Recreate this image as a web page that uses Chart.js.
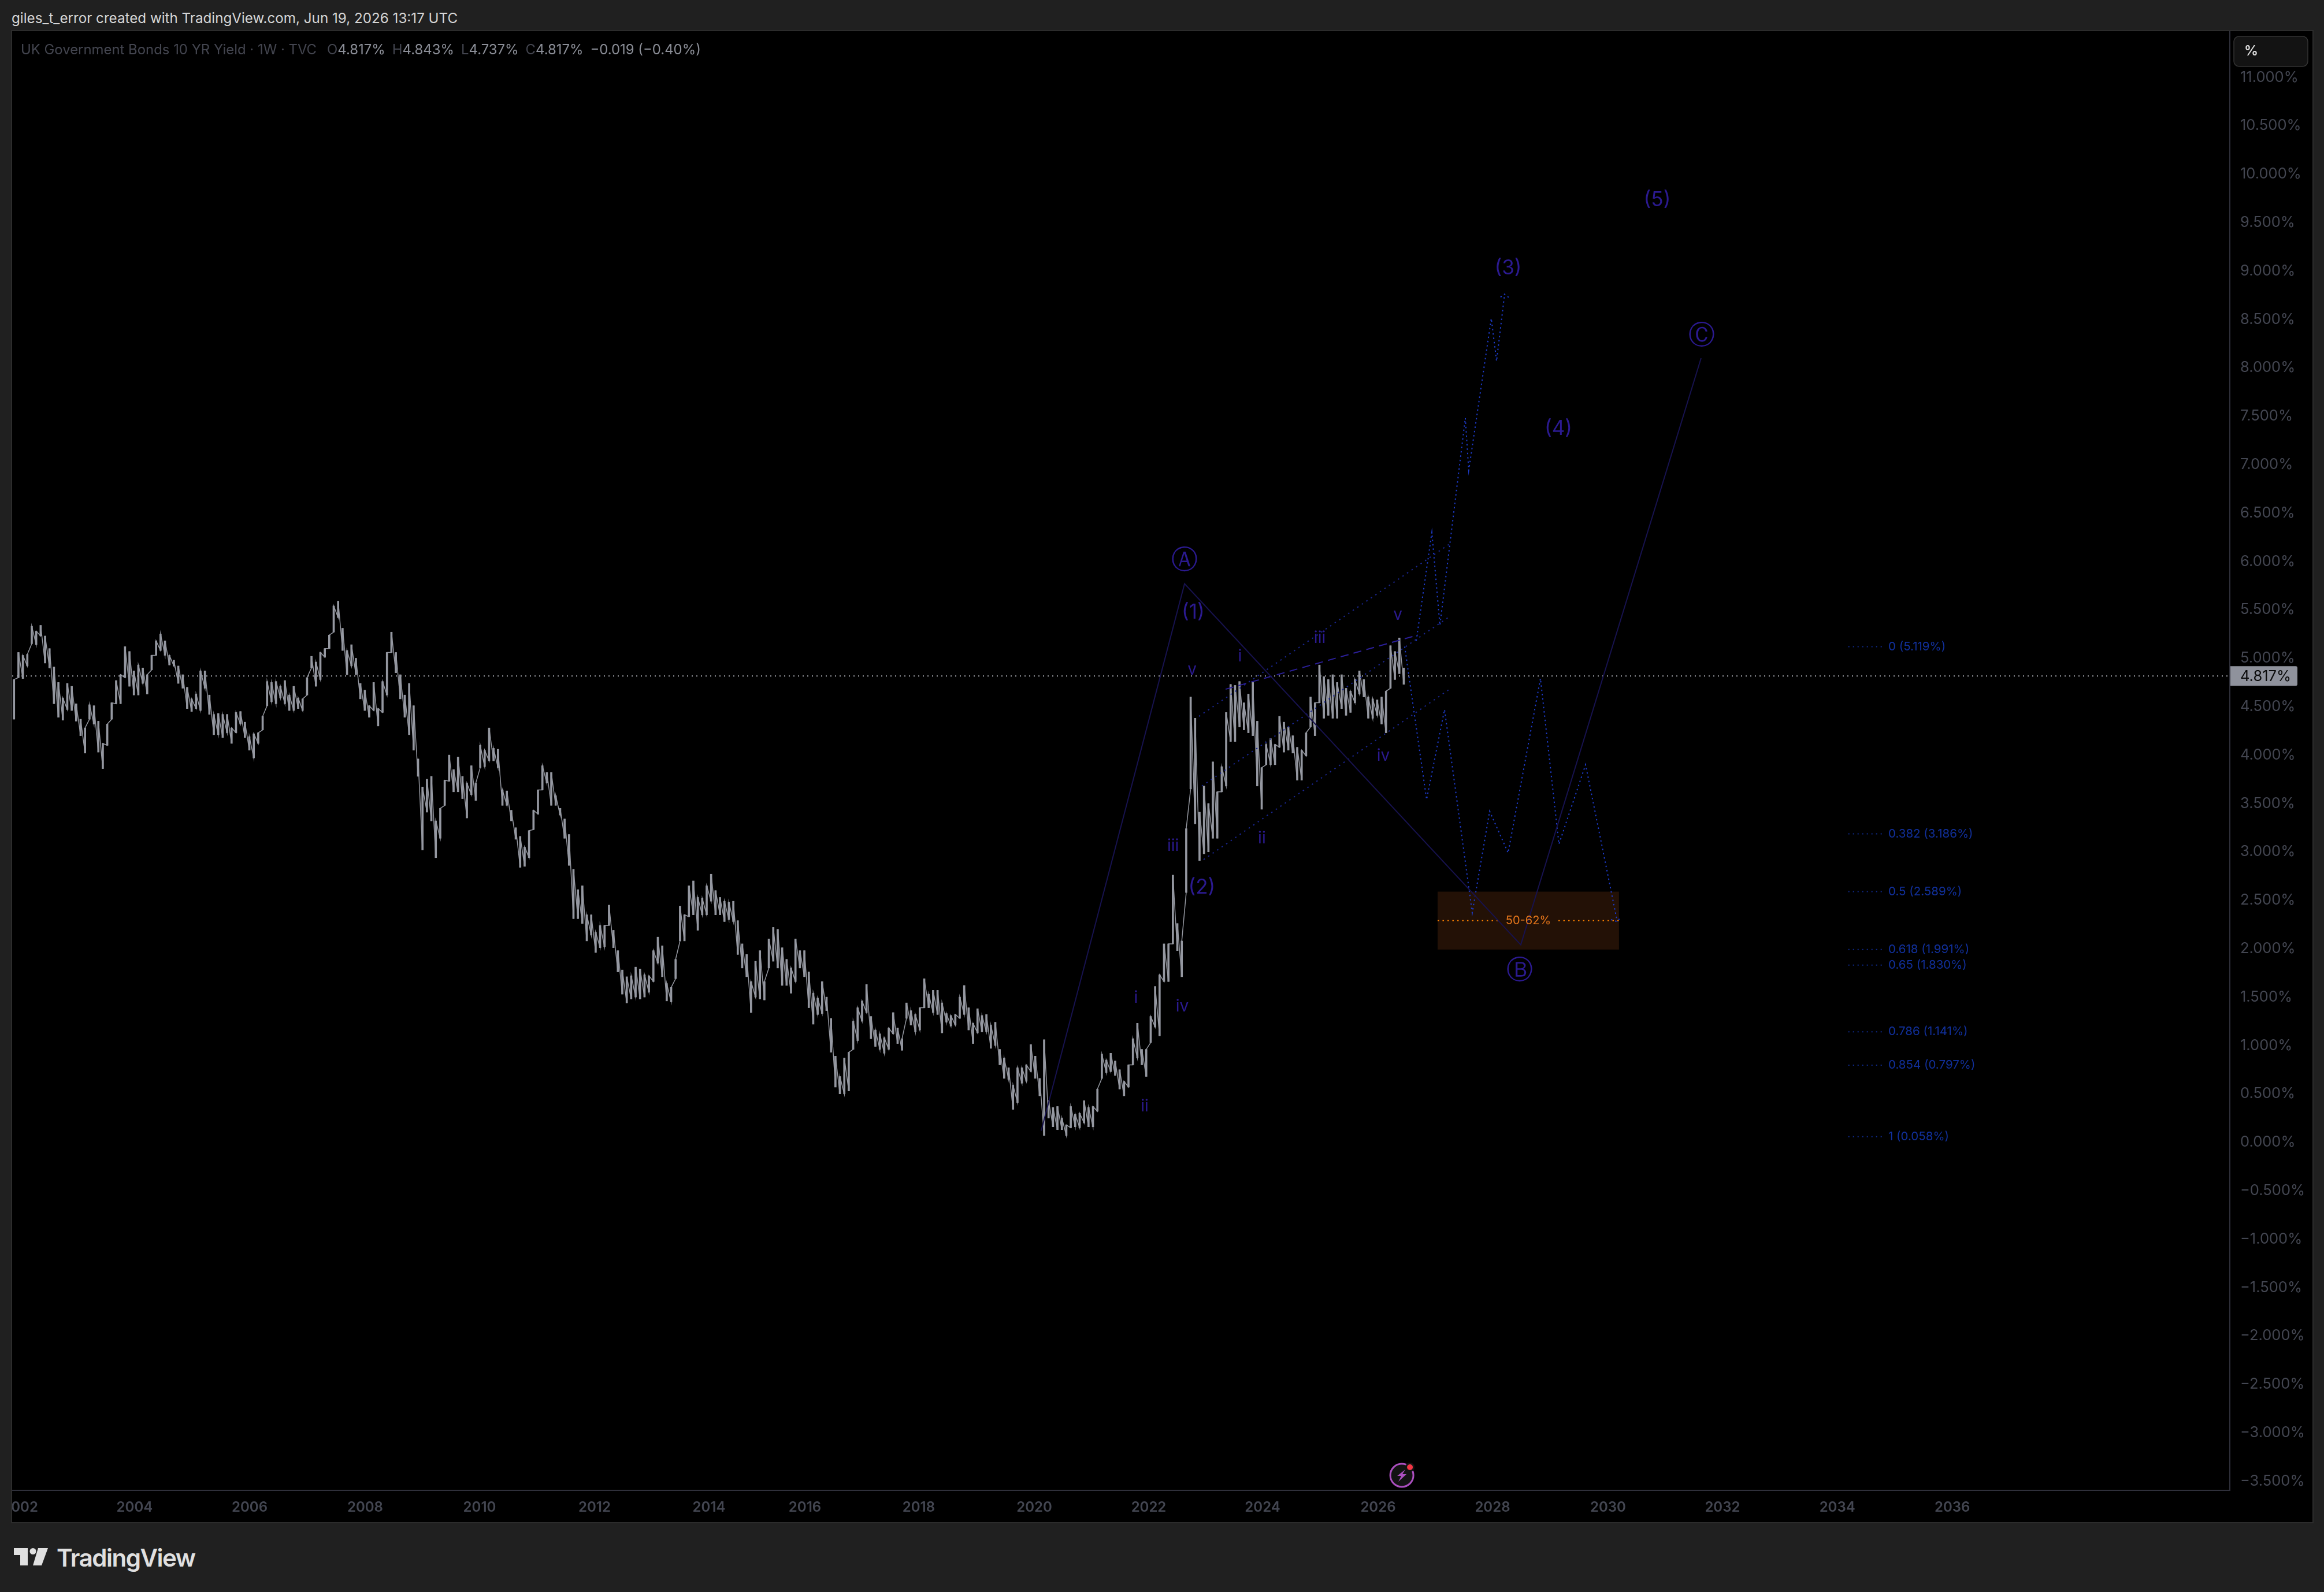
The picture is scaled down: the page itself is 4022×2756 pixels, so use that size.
<!DOCTYPE html>
<html>
<head>
<meta charset="utf-8">
<title>UK Government Bonds 10 YR Yield</title>
<script src="https://cdn.jsdelivr.net/npm/chart.js@4/dist/chart.umd.min.js"></script>
<style>
  html, body { margin: 0; background: #202020; width: 4022px; height: 2756px; overflow: hidden; font-family: Inter, sans-serif; }
  #frame { position: absolute; left: 19px; top: 52px; width: 3981px; height: 2581px; border: 2px solid #2c2c2c; background: #000; }
  canvas { position: absolute; left: 0; top: 0; }
  .title { position: absolute; left: 20px; top: 17px; font-size: 24.2px; color: #d6d6d6; white-space: nowrap; }
  .legend { position: absolute; left: 36px; top: 71px; font-size: 23.9px; color: #43454f; white-space: nowrap; }
  .legend b { font-weight: 400; color: #8b8e97; margin-right: 12px; }
  .legend .src { margin-right: 18px; }
  .logoText { position: absolute; left: 98px; top: 2671px; font-size: 42px; font-weight: 600; letter-spacing: -1.5px; color: #e0e0e0; }
  .logo { position: absolute; left: 24px; top: 2680px; }
</style>
</head>
<body>
<div class="title">giles_t_error created with TradingView.com, Jun 19, 2026 13:17 UTC</div>
<div id="frame"><canvas id="chart" width="3981" height="2581"></canvas></div>
<div class="legend"><span class="src">UK Government Bonds 10 YR Yield · 1W · TVC</span>O<b>4.817%</b>H<b>4.843%</b>L<b>4.737%</b>C<b>4.817%</b><b>−0.019 (−0.40%)</b></div>
<svg class="logo" width="60" height="30" viewBox="0 0 60 30"><path fill="#e0e0e0" d="M0 0H24V30H11V12H0Z"/><circle fill="#e0e0e0" cx="33" cy="5.5" r="5.5"/><path fill="#e0e0e0" d="M42 0H59L48 30H33Z"/></svg>
<div class="logoText">TradingView</div>

<script>
// Highs and lows of the yield, one pair every four weeks or so
const highs = [
  4.78,5.06,5.03,5.04,5.33,5.28,5.34,5.23,5.10,4.91,4.75,4.59,4.74,4.71,4.53,4.37,4.28,4.52,4.51,4.35,
  4.12,4.32,4.54,4.77,4.83,5.12,5.07,4.87,4.93,4.90,4.83,5.03,5.18,5.25,5.18,5.03,4.98,4.92,4.83,4.70,
  4.58,4.63,4.87,4.87,4.62,4.42,4.43,4.42,4.42,4.28,4.44,4.45,4.34,4.19,4.22,4.23,4.40,4.76,4.75,4.76,
  4.71,4.77,4.62,4.71,4.59,4.58,4.80,5.02,4.96,5.06,5.10,5.24,5.54,5.59,5.31,5.08,5.14,5.00,4.74,4.67,
  4.51,4.75,4.48,4.76,5.06,5.27,5.06,4.83,4.62,4.74,4.51,3.96,3.67,3.75,3.78,3.32,3.45,3.74,4.00,3.85,
  3.98,3.78,3.71,3.89,3.71,4.10,4.05,4.28,4.07,4.06,3.64,3.63,3.43,3.25,3.16,3.05,3.22,3.43,3.64,3.89,
  3.82,3.82,3.58,3.45,3.34,3.18,2.82,2.61,
  2.65,2.35,2.35,2.17,2.24,2.24,2.45,2.19,1.98,1.78,1.71,1.72,1.81,1.79,1.73,1.72,1.98,2.12,2.03,1.64,
  1.60,1.89,2.44,2.35,2.65,2.70,2.53,2.52,2.65,2.77,2.60,2.53,2.49,2.48,2.49,2.29,2.05,1.94,1.66,1.87,
  1.98,1.66,2.10,2.22,2.20,2.01,1.89,1.80,2.10,1.98,1.98,1.76,1.54,1.49,1.66,1.50,1.28,0.89,0.68,0.87,
  0.93,1.25,1.39,1.46,1.63,1.30,1.16,1.12,1.08,1.18,1.34,1.18,1.07,1.44,1.36,1.32,1.39,1.69,1.53,1.57,
  1.57,1.44,1.33,1.31,1.32,1.50,1.62,1.39,1.23,1.38,1.31,1.32,1.21,1.24,0.96,0.87,0.77,0.59,0.77,0.77,
  0.80,1.01,0.89,0.66,1.06,0.43,0.36,0.37,0.25,0.18,0.37,0.29,0.30,0.43,0.36,0.37,0.55,0.91,0.85,0.92,
  0.84,0.75,0.63,0.80,1.07,1.23,0.96,0.96,1.30,1.61,1.73,2.05,2.05,2.76,2.26,2.08,3.24,
  4.60,4.38,3.41,3.68,3.50,3.93,3.62,3.88,4.44,4.73,4.72,4.76,4.54,4.63,4.75,4.35,3.87,4.11,4.17,4.11,
  4.40,4.34,4.29,4.20,4.08,4.05,4.23,4.60,4.54,4.93,4.81,4.78,4.83,4.75,4.83,4.69,4.66,4.78,4.87,4.78,
  4.60,4.58,4.57,4.60,4.66,5.13,5.07,5.21,4.90
];
const lows = [
  4.37,4.80,4.79,4.92,5.15,5.14,5.23,4.95,4.90,4.53,4.39,4.36,4.47,4.46,4.35,4.20,4.02,4.37,4.32,4.03,
  3.86,4.10,4.37,4.53,4.53,4.80,4.71,4.62,4.62,4.74,4.63,4.88,5.03,5.08,5.03,4.93,4.92,4.74,4.69,4.48,
  4.45,4.48,4.46,4.69,4.42,4.21,4.21,4.18,4.23,4.12,4.23,4.32,4.18,4.05,3.97,4.12,4.26,4.51,4.55,4.53,
  4.59,4.53,4.46,4.46,4.48,4.46,4.62,4.90,4.71,4.78,5.01,5.10,5.27,5.42,5.08,4.83,4.92,4.83,4.58,4.46,
  4.39,4.46,4.30,4.44,4.62,5.06,4.85,4.58,4.39,4.21,4.05,3.78,3.02,3.41,3.32,2.94,3.14,3.48,3.73,3.62,
  3.62,3.55,3.35,3.59,3.53,3.87,3.88,3.94,3.94,3.87,3.48,3.48,3.32,3.13,2.84,2.85,2.94,3.23,3.39,3.64,
  3.71,3.48,3.48,3.38,3.14,2.86,2.31,2.31,
  2.26,2.08,2.14,1.96,2.01,2.02,2.24,2.01,1.76,1.53,1.44,1.48,1.50,1.48,1.50,1.55,1.66,1.85,1.71,1.46,
  1.45,1.69,2.08,2.08,2.33,2.35,2.19,2.35,2.35,2.49,2.35,2.35,2.28,2.30,2.28,1.94,1.80,1.71,1.34,1.50,
  1.48,1.47,1.80,1.87,1.80,1.62,1.62,1.54,1.66,1.80,1.71,1.39,1.22,1.32,1.33,1.36,0.93,0.57,0.50,0.50,
  0.53,0.96,1.05,1.25,1.34,1.07,0.99,0.96,0.92,0.96,1.12,1.02,0.95,1.28,1.21,1.14,1.16,1.39,1.39,1.34,
  1.32,1.13,1.24,1.20,1.21,1.28,1.32,1.16,1.02,1.13,1.14,1.14,0.97,1.00,0.80,0.66,0.65,0.34,0.41,0.61,
  0.63,0.73,0.66,0.48,0.07,0.25,0.16,0.13,0.13,0.07,0.15,0.16,0.15,0.20,0.16,0.16,0.32,0.66,0.72,0.73,
  0.69,0.55,0.48,0.57,0.80,0.87,0.80,0.68,1.03,1.19,1.10,1.66,1.66,2.05,1.98,1.71,2.58,
  3.65,3.29,2.91,2.98,3.00,3.14,3.14,3.62,3.68,4.14,4.14,4.29,4.26,4.23,4.20,3.68,3.44,3.90,3.90,3.90,
  4.08,4.03,4.05,4.02,3.74,3.74,3.99,4.29,4.20,4.54,4.38,4.41,4.38,4.38,4.48,4.41,4.44,4.54,4.63,4.60,
  4.38,4.38,4.41,4.32,4.23,4.69,4.78,4.84,4.73
];
const lastPrice = 4.817;

// Axis labels; x is counted in weekly bars from the left edge of the pane
const yearLabels = ['2002','2004','2006','2008','2010','2012','2014','2016','2018','2020','2022','2024','2026','2028','2030','2032','2034','2036'];
const yearBars = [7.4,111.3,215.9,320.9,424.9,529.4,633.4,720.6,824,929.1,1033.1,1136.6,1241.6,1345.6,1450.6,1554.6,1659,1763.5];
const priceTicks = [-3.5,-3,-2.5,-2,-1.5,-1,-0.5,0,0.5,1,1.5,2,2.5,3,3.5,4,4.5,5,5.5,6,6.5,7,7.5,8,8.5,9,9.5,10,10.5,11];

// Wave drawings: bar index, price
const abcBars = [935.4,1065.7,1371.3,1535.2];
const abcPrices = [0.12,5.77,2.04,8.10];
const upBars = [1276.3,1290.5,1297.8,1320.9,1324,1344.5,1349.3,1356.6];
const upPrices = [5.18,6.30,5.34,7.48,6.94,8.51,8.07,8.76];
const arrowBars = [1352.9,1356.6,1362.4];
const arrowPrices = [8.73,8.76,8.71];
const downBars = [1265.8,1285.7,1302,1327.2,1343,1359.8,1389.2,1406,1430.2,1459];
const downPrices = [5.12,3.54,4.47,2.37,3.42,2.99,4.79,3.08,3.90,2.28];
const arrow2Bars = [1453.3,1459,1462.4];
const arrow2Prices = [2.30,2.28,2.33];
const upperBars = [1078.8,1307.8];
const upperPrices = [4.40,6.19];
const midBars = [1081.4,1307.8];
const midPrices = [3.68,5.44];
const lowerBars = [1083,1307.8];
const lowerPrices = [2.92,4.69];
const dashBars = [1103,1277.8];
const dashPrices = [4.68,5.24];

const waveLabels = ['Ⓐ','Ⓑ','Ⓒ','(1)','(2)','(3)','(4)','(5)','v','i','iii','v','iv','ii','iii','i','ii','iv'];
const waveBars = [1065.7,1370.3,1535.7,1073.5,1081.4,1359.8,1405.5,1495.3,1072.5,1116,1188.6,1259.5,1246.3,1136,1055.2,1021.5,1029.4,1063.6];
const wavePrices = [6.00,1.76,8.32,5.47,2.63,9.03,7.37,9.73,4.88,5.02,5.21,5.45,3.99,3.14,3.06,1.49,0.37,1.40];

// Fibonacci levels
const fibRatios = ['0','0.382','0.5','0.618','0.65','0.786','0.854','1'];
const fibPrices = [5.119,3.186,2.589,1.991,1.830,1.141,0.797,0.058];
const fibFrom = 1669;
const fibTo = 1699.6;

// Orange zone
const zoneBars = [1295.7,1460.6];
const zonePrices = [2.589,1.991];
const zoneMid = 2.29;

const barStep = 4.036;
const firstBar = 1.7;

function points(xs, ys) {
    return xs.map((x, i) => ({ x: x, y: ys[i] }));
}

function drawing(xs, ys, color, dash, width) {
    return {
        type: 'line',
        data: points(xs, ys),
        borderColor: color,
        borderWidth: width || 2,
        borderDash: dash || [],
        pointRadius: 0,
        tension: 0,
        order: 1
    };
}

// jagged thin line that runs low, high, next low, next high through the bars
function priceTrace() {
    const pts = [];
    highs.forEach((h, i) => {
        const x = firstBar + i * barStep;
        pts.push({ x: x, y: lows[i] });
        pts.push({ x: x, y: h });
    });
    return pts;
}

// Zone goes under the bars, price label and texts go on top
const beforePlugin = {
    id: 'zoneBox',
    beforeDatasetsDraw(chart) {
        const ctx = chart.ctx;
        const x = chart.scales.x;
        const y = chart.scales.y;
        ctx.save();
        ctx.fillStyle = '#231106';
        ctx.fillRect(x.getPixelForValue(zoneBars[0]), y.getPixelForValue(zonePrices[0]),
            x.getPixelForValue(zoneBars[1]) - x.getPixelForValue(zoneBars[0]),
            y.getPixelForValue(zonePrices[1]) - y.getPixelForValue(zonePrices[0]));
        ctx.restore();
    }
};

const afterPlugin = {
    id: 'texts',
    afterDatasetsDraw(chart) {
        const ctx = chart.ctx;
        const x = chart.scales.x;
        const y = chart.scales.y;
        ctx.save();
        ctx.textBaseline = 'middle';

        // wave counts
        ctx.fillStyle = '#2b1a90';
        ctx.textAlign = 'center';
        waveLabels.forEach((t, i) => {
            if (i < 3) ctx.font = '46px "DejaVu Sans"';
            else if (i < 8) ctx.font = '35px Inter';
            else ctx.font = '28px Inter';
            ctx.fillText(t, x.getPixelForValue(waveBars[i]), y.getPixelForValue(wavePrices[i]));
        });

        // fib levels
        ctx.textAlign = 'left';
        ctx.font = '20.5px Inter';
        fibRatios.forEach((r, i) => {
            const py = y.getPixelForValue(fibPrices[i]);
            ctx.fillStyle = '#11309c';
            ctx.fillText(r + ' (' + fibPrices[i].toFixed(3) + '%)', x.getPixelForValue(fibTo) + 11, py);
        });

        // zone label
        ctx.fillStyle = '#e5761b';
        ctx.textAlign = 'center';
        ctx.font = '20px Inter';
        ctx.fillText('50-62%', x.getPixelForValue((zoneBars[0] + zoneBars[1]) / 2), y.getPixelForValue(zoneMid));

        // lightning button on the time axis
        const bx = x.getPixelForValue(1263.2);
        const by = y.getPixelForValue(-3.44);
        ctx.beginPath();
        ctx.arc(bx, by, 20, 0, Math.PI * 2);
        ctx.fillStyle = '#131313';
        ctx.fill();
        ctx.lineWidth = 3;
        ctx.strokeStyle = '#ab4fbf';
        ctx.stroke();
        ctx.beginPath();
        ctx.moveTo(bx + 6, by - 10);
        ctx.lineTo(bx - 8, by + 1);
        ctx.lineTo(bx - 1, by + 1);
        ctx.lineTo(bx - 6, by + 11);
        ctx.lineTo(bx + 8, by - 2);
        ctx.lineTo(bx + 1, by - 2);
        ctx.closePath();
        ctx.fillStyle = '#ab4fbf';
        ctx.fill();
        ctx.beginPath();
        ctx.arc(bx + 14, by - 14, 8, 0, Math.PI * 2);
        ctx.fillStyle = '#131313';
        ctx.fill();
        ctx.beginPath();
        ctx.arc(bx + 14, by - 14, 5, 0, Math.PI * 2);
        ctx.fillStyle = '#f23645';
        ctx.fill();

        // last price tag
        const right = x.right;
        const py = y.getPixelForValue(lastPrice);
        ctx.fillStyle = '#8f929c';
        ctx.beginPath();
        ctx.roundRect(right + 1, py - 17, 116, 34, [0, 3, 3, 0]);
        ctx.fill();
        ctx.fillStyle = '#0b0b0b';
        ctx.textAlign = 'left';
        ctx.font = '25.5px Inter';
        ctx.fillText(lastPrice.toFixed(3) + '%', right + 18, py + 1);

        // percent button
        ctx.beginPath();
        ctx.roundRect(right + 7, 9, 128, 52, 9);
        ctx.fillStyle = '#131313';
        ctx.fill();
        ctx.lineWidth = 1.5;
        ctx.strokeStyle = '#333333';
        ctx.stroke();
        ctx.fillStyle = '#dddddd';
        ctx.font = '600 24px Inter';
        ctx.fillText('%', right + 25, 35);
        ctx.restore();
    }
};

const chart = new Chart(document.getElementById('chart'), {
    data: {
        datasets: [
            drawing(abcBars, abcPrices, '#17124f'),
            drawing(upBars, upPrices, '#1d3bc9', [2.5, 5]),
            drawing(arrowBars, arrowPrices, '#1d3bc9', [2.5, 5]),
            drawing(downBars, downPrices, '#1d3bc9', [2.5, 5]),
            drawing(arrow2Bars, arrow2Prices, '#1d3bc9', [2.5, 5]),
            drawing(upperBars, upperPrices, '#1a2690', [2.5, 7]),
            drawing(midBars, midPrices, '#1a2690', [2.5, 7]),
            drawing(lowerBars, lowerPrices, '#1a2690', [2.5, 7]),
            drawing(dashBars, dashPrices, '#2b1f99', [14, 9]),
            // fib stubs
            ...fibPrices.map(p => drawing([fibFrom, fibTo], [p, p], '#0f2a8c', [2, 6])),
            // zone middle line, broken around its label
            drawing([zoneBars[0], 1352], [zoneMid, zoneMid], '#f57c00', [2.5, 6]),
            drawing([1405.5, zoneBars[1]], [zoneMid, zoneMid], '#f57c00', [2.5, 6]),
            {
                type: 'bar',
                data: highs.map((h, i) => ({ x: firstBar + i * barStep, y: [lows[i], h] })),
                backgroundColor: '#9598a1',
                barThickness: 3,
                order: 5
            },
            {
                type: 'line',
                data: priceTrace(),
                borderColor: '#9598a1',
                borderWidth: 1.5,
                pointRadius: 0,
                tension: 0,
                order: 5
            },
            Object.assign(drawing([0, 2016], [lastPrice, lastPrice], '#a6a8af', [2, 6]), { order: 6 })
        ]
    },
    options: {
        responsive: false,
        animation: false,
        events: [],
        layout: { padding: 0 },
        plugins: { legend: { display: false }, tooltip: { enabled: false } },
        scales: {
            x: {
                type: 'linear',
                min: 0,
                max: 2015.8,
                offset: false,
                grid: { display: false, drawTicks: false },
                border: { display: true, color: '#2f303b', width: 2 },
                afterBuildTicks(axis) {
                    axis.ticks = yearBars.map(v => ({ value: v }));
                },
                afterFit(axis) {
                    axis.height = 55;
                    axis.paddingLeft = 0;
                    axis.paddingRight = 0;
                },
                ticks: {
                    autoSkip: false,
                    maxRotation: 0,
                    padding: 15,
                    color: '#434651',
                    font: { family: 'Inter', size: 24, weight: '600' },
                    callback(value) {
                        return yearLabels[yearBars.indexOf(value)];
                    }
                }
            },
            y: {
                position: 'right',
                min: -3.595,
                max: 11.477,
                grid: { display: false, drawTicks: false },
                border: { display: true, color: '#2f303b', width: 2 },
                afterBuildTicks(axis) {
                    axis.ticks = priceTicks.map(v => ({ value: v }));
                },
                afterFit(axis) {
                    axis.width = 143;
                    axis.paddingTop = 0;
                    axis.paddingBottom = 0;
                },
                ticks: {
                    autoSkip: false,
                    padding: 18,
                    color: '#434651',
                    font: { family: 'Inter', size: 25.5 },
                    callback(value) {
                        return (value < 0 ? '−' : '') + Math.abs(value).toFixed(3) + '%';
                    }
                }
            }
        }
    },
    plugins: [beforePlugin, afterPlugin]
});
</script>
</body>
</html>
